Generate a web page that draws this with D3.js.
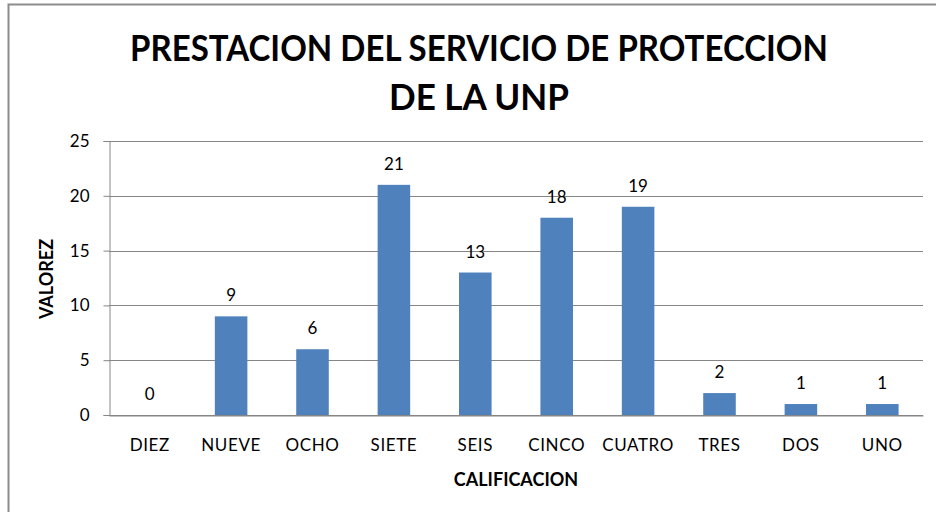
<!DOCTYPE html>
<html>
<head>
<meta charset="utf-8">
<script src="https://cdn.jsdelivr.net/npm/d3@7"></script>
<style>
  body { margin: 0; background: #fff; }
  svg { display: block; }
</style>
</head>
<body>
<script>
'use strict';

// chart data
const categories = ["DIEZ", "NUEVE", "OCHO", "SIETE", "SEIS", "CINCO", "CUATRO", "TRES", "DOS", "UNO"];
const values = [0, 9, 6, 21, 13, 18, 19, 2, 1, 1];
const yTicks = [0, 5, 10, 15, 20, 25];
const titleLines = ["PRESTACION DEL SERVICIO DE PROTECCION", "DE LA UNP"];
const xTitle = "CALIFICACION";
const yTitle = "VALOREZ";

(function() {
  const width = 936, height = 512;
  const font = "Lato, 'Open Sans', sans-serif";

  const svg = d3.select('body')
    .append('svg')
    .attr('width', width)
    .attr('height', height);

  // outer chart border (only top and left show in the frame)
  svg.append('rect')
    .attr('x', 8.5)
    .attr('y', 4.5)
    .attr('width', 1000)
    .attr('height', 1000)
    .attr('fill', 'none')
    .attr('stroke', '#8c8c8c')
    .attr('stroke-width', 2);

  // plot area
  const left = 109, right = 923, top = 141, bottom = 415;

  const x = d3.scaleBand()
    .domain(categories)
    .range([left, right])
    .paddingInner(0.6)
    .paddingOuter(0.3);

  const y = d3.scaleLinear()
    .domain([0, 25])
    .range([bottom, top]);

  // gridlines
  svg.append('g')
    .selectAll('line')
    .data(yTicks)
    .enter()
    .append('line')
      .attr('x1', left)
      .attr('x2', right)
      .attr('y1', d => Math.round(y(d)) + 0.5)
      .attr('y2', d => Math.round(y(d)) + 0.5)
      .attr('stroke', '#868686')
      .attr('stroke-width', 1);

  // y axis
  const yAxis = d3.axisLeft(y).tickValues(yTicks).tickSize(6).tickPadding(14);
  const gy = svg.append('g')
    .attr('transform', `translate(${left + 0.5}, 0)`)
    .call(yAxis);
  gy.select('.domain').attr('stroke', '#868686');
  gy.selectAll('.tick line').attr('stroke', '#868686');
  gy.selectAll('.tick text')
    .attr('font-family', font)
    .attr('font-size', '17px')
    .attr('fill', '#000');

  // x axis
  const xAxis = d3.axisBottom(x).tickSize(0).tickPadding(23);
  const gx = svg.append('g')
    .attr('transform', `translate(0, ${bottom + 0.5})`)
    .call(xAxis);
  gx.select('.domain').attr('stroke', '#868686');
  gx.selectAll('.tick text')
    .attr('font-family', font)
    .attr('font-size', '17px')
    .attr('letter-spacing', '0.6px')
    .attr('fill', '#000');

  // bars
  svg.append('g')
    .selectAll('rect')
    .data(values)
    .enter()
    .append('rect')
      .attr('x', (d, i) => x(categories[i]))
      .attr('y', d => y(d))
      .attr('width', x.bandwidth())
      .attr('height', d => bottom - y(d))
      .attr('fill', '#4f81bd');

  // value labels
  svg.append('g')
    .selectAll('text')
    .data(values)
    .enter()
    .append('text')
      .attr('x', (d, i) => x(categories[i]) + x.bandwidth() / 2)
      .attr('y', d => y(d) - 15)
      .attr('text-anchor', 'middle')
      .attr('font-family', font)
      .attr('font-size', '17px')
      .text(d => d);

  // title
  const title = svg.append('g');
  titleLines.forEach((t, i) => {
    const txt = title.append('text')
      .attr('x', 479)
      .attr('y', 61 + i * 49)
      .attr('text-anchor', 'middle')
      .attr('font-family', font)
      .attr('font-weight', 'bold')
      .attr('font-size', '36px')
      .text(t);
    // squeeze to the narrow look of the original
    const w = txt.node().getComputedTextLength();
    const target = i === 0 ? 698 : 180;
    if (w > target) {
      txt.attr('textLength', target).attr('lengthAdjust', 'spacingAndGlyphs');
    }
  });

  // axis titles
  svg.append('text')
    .attr('x', 516)
    .attr('y', 486)
    .attr('text-anchor', 'middle')
    .attr('font-family', font)
    .attr('font-weight', 'bold')
    .attr('font-size', '18px')
    .text(xTitle);

  svg.append('text')
    .attr('transform', 'translate(53, 279)rotate(-90)')
    .attr('text-anchor', 'middle')
    .attr('font-family', font)
    .attr('font-weight', 'bold')
    .attr('font-size', '18px')
    .text(yTitle);
})();
</script>
</body>
</html>
